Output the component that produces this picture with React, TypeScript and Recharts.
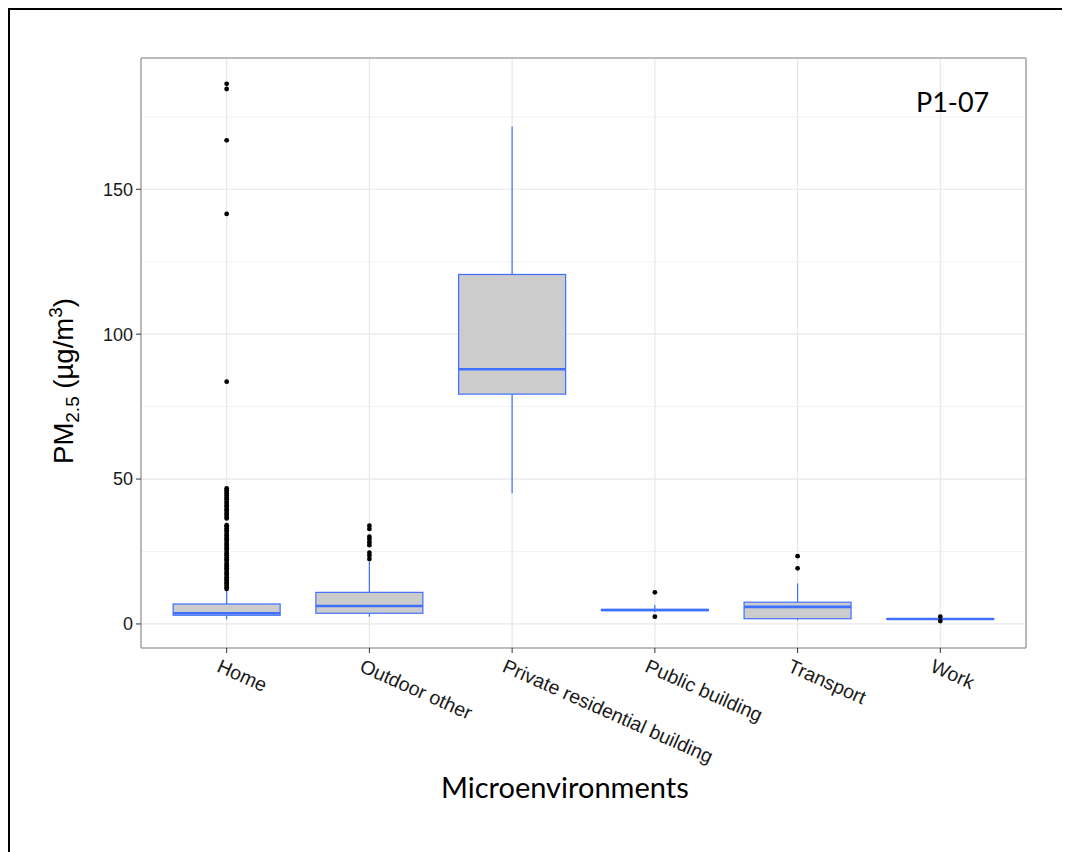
import React from 'react';
import { ComposedChart, Bar, Scatter, XAxis, YAxis, CartesianGrid } from 'recharts';

// microenvironments on the x axis
const categories = ['Home', 'Outdoor other', 'Private residential building', 'Public building', 'Transport', 'Work'];

// box statistics, PM2.5 in µg/m3
const lowerWhisker = [1.6, 2.5, 45.1, 4.0, 1.3, 1.5];
const q1 = [3.0, 3.7, 79.3, 4.6, 1.8, 1.6];
const median = [3.7, 6.2, 87.9, 4.8, 5.9, 1.7];
const q3 = [6.9, 10.9, 120.6, 5.0, 7.5, 1.8];
const upperWhisker = [12.0, 21.5, 171.7, 6.5, 14.0, 1.9];

// outliers
const homeOutliers = [
  12.1, 12.6, 13.3, 13.9, 14.3, 15.0, 15.6, 16.1, 16.9, 17.4, 18.0, 18.7, 19.2, 19.9, 20.5, 21.0,
  21.8, 22.3, 22.9, 23.7, 24.2, 24.8, 25.5, 26.1, 26.7, 27.4, 27.9, 28.6, 29.2, 29.8, 30.5, 31.0,
  31.7, 32.3, 32.9, 33.5, 34.1, 36.4, 37.0, 37.8, 38.3, 39.1, 39.6, 40.4, 41.0, 41.7, 42.2, 43.0,
  43.6, 44.3, 45.0, 45.5, 46.1, 46.8, 83.6, 141.5, 166.9, 184.6, 186.4,
];
const outdoorOutliers = [22.4, 23.6, 24.6, 27.2, 28.2, 29.3, 30.1, 32.8, 33.9];
const privateOutliers: number[] = [];
const publicOutliers = [2.5, 10.9];
const transportOutliers = [19.2, 23.4];
const workOutliers = [1.0, 2.5];

const yTicks = [0, 50, 100, 150];
const yMinor = [25, 75, 125, 175];

const data = categories.map((name, i) => ({
  name,
  whisker: [lowerWhisker[i], upperWhisker[i]],
  q1: q1[i],
  median: median[i],
  q3: q3[i],
}));

const outliers = [homeOutliers, outdoorOutliers, privateOutliers, publicOutliers, transportOutliers, workOutliers]
  .flatMap((vals, i) => vals.map((value) => ({ name: categories[i], value })));

const BLUE = '#3f6fff';
const PANEL = '#a6a6a6';

// bar spans the whiskers; box and median placed on the same linear scale
const BoxShape = (props: any) => {
  const { x, y, width, height, payload } = props;
  const [lo, hi] = payload.whisker;
  const top = Math.min(y, y + height);
  const h = Math.abs(height);
  const toY = (v: number) => top + ((hi - v) / (hi - lo)) * h;
  const cx = x + width / 2;
  const yq1 = toY(payload.q1);
  const yq3 = toY(payload.q3);
  const ym = toY(payload.median);
  return (
    <g>
      <line x1={cx} x2={cx} y1={top} y2={yq3} stroke={BLUE} strokeWidth={1.2} />
      <line x1={cx} x2={cx} y1={yq1} y2={top + h} stroke={BLUE} strokeWidth={1.2} />
      <rect x={x} y={yq3} width={width} height={Math.max(yq1 - yq3, 0.5)} fill="#cccccc" stroke={BLUE} strokeWidth={1.2} />
      <line x1={x} x2={x + width} y1={ym} y2={ym} stroke={BLUE} strokeWidth={2.6} />
    </g>
  );
};

const Dot = (props: any) => <circle cx={props.cx} cy={props.cy} r={2.4} fill="#000" />;

const XTick = (props: any) => {
  const { x, y, payload } = props;
  const ax = x - 11;
  const ay = y + 16;
  return (
    <text x={ax} y={ay} transform={`rotate(24 ${ax} ${ay})`} textAnchor="start"
      fontFamily="'Liberation Sans', Arial, sans-serif" fontSize={19.5} fill="#1a1a1a">
      {payload.value}
    </text>
  );
};

const YTitle = () => (
  <text x={63} y={371} transform="rotate(-90 63 371)" textAnchor="middle"
    fontFamily="'Liberation Sans', Arial, sans-serif" fontSize={27.5} fill="#000">
    PM<tspan fontSize={19} dy={6}>2.5</tspan><tspan dy={-6}> (µg/m</tspan><tspan fontSize={19} dy={-11}>3</tspan><tspan dy={11}>)</tspan>
  </text>
);

const tickStyle = { fontFamily: "'Liberation Sans', Arial, sans-serif", fontSize: 18, fill: '#1a1a1a' };

export default function App() {
  return (
    <div style={{ position: 'relative', width: 1056, height: 842, overflow: 'hidden', borderLeft: '2px solid #000', borderTop: '2px solid #000', borderRight: '2px solid #000' }}>
      <ComposedChart width={1056} height={830} data={data} margin={{ top: 47, right: 39, left: 71, bottom: 42 }} barCategoryGap="12.5%">
        <CartesianGrid horizontalValues={yMinor} vertical={false} stroke="#f3f3f3" strokeWidth={1} />
        <CartesianGrid horizontalValues={yTicks} stroke="#e8e8e8" strokeWidth={1.2} />
        <XAxis dataKey="name" type="category" allowDuplicatedCategory={false} padding={{ left: 14.3, right: 14.3 }}
          height={150} tick={<XTick />} tickSize={5} tickMargin={2} interval={0}
          axisLine={{ stroke: PANEL, strokeWidth: 1.5 }} tickLine={{ stroke: '#333' }} />
        <XAxis xAxisId="top" orientation="top" dataKey="name" allowDuplicatedCategory={false} height={1}
          tick={false} tickLine={false} axisLine={{ stroke: PANEL, strokeWidth: 1.5 }} />
        <YAxis type="number" domain={[-8.3, 195.3]} ticks={yTicks} allowDataOverflow width={60}
          tick={tickStyle} tickSize={5} tickMargin={3}
          axisLine={{ stroke: PANEL, strokeWidth: 1.5 }} tickLine={{ stroke: '#333' }} label={<YTitle />} />
        <YAxis yAxisId="right" orientation="right" width={1} tick={false} tickLine={false}
          axisLine={{ stroke: PANEL, strokeWidth: 1.5 }} />
        <Bar dataKey="whisker" shape={<BoxShape />} isAnimationActive={false} />
        <Scatter data={outliers} dataKey="value" shape={<Dot />} isAnimationActive={false} />
      </ComposedChart>
      <span style={{ position: 'absolute', left: 906, top: 78, fontFamily: 'Lato, sans-serif', fontSize: 27, color: '#000', lineHeight: 1 }}>P1-07</span>
      <span style={{ position: 'absolute', left: 431, top: 762, fontFamily: 'Lato, sans-serif', fontSize: 29, color: '#000', lineHeight: 1 }}>Microenvironments</span>
    </div>
  );
}
